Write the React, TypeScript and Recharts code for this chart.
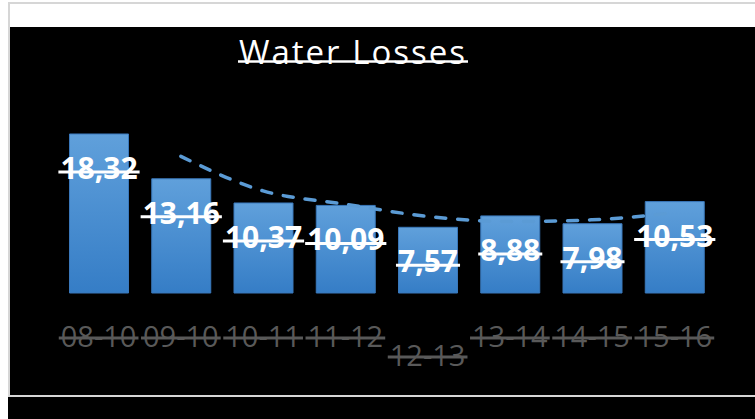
import React from 'react';
import { ComposedChart, Bar, Line, XAxis, YAxis, LabelList } from 'recharts';

const title = 'Water Losses';
const categories = ['08-10', '09-10', '10-11', '11-12', '12-13', '13-14', '14-15', '15-16'];
const losses = [18.32, 13.16, 10.37, 10.09, 7.57, 8.88, 7.98, 10.53];
const movingAverage = [null, 15.74, 11.77, 10.23, 8.83, 8.23, 8.43, 9.26];
const loweredTicks = ['12-13'];

const data = categories.map((c, i) => ({ period: c, loss: losses[i], avg: movingAverage[i] }));

const FONT = '"Open Sans", "Noto Sans", sans-serif';

const textWidth = (s: string, size: number, bold: boolean) => {
  let w = 0;
  for (const ch of s) {
    if (ch >= '0' && ch <= '9') w += 0.572;
    else if (ch === ',') w += bold ? 0.286 : 0.266;
    else if (ch === '-') w += 0.322;
    else w += 0.55;
  }
  return w * size;
};

const fmt = (v: number) => v.toFixed(2).replace('.', ',');

const BarLabel = (props: any) => {
  const { x, y, width, value } = props;
  const cx = Number(x) + Number(width) / 2;
  const base = Number(y) + 45;
  const text = fmt(Number(value));
  const size = 30;
  const w = textWidth(text, size, true);
  return (
    <g>
      <text x={cx} y={base} textAnchor="middle" fill="#ffffff" fontWeight="bold" fontSize={size} fontFamily={FONT}>
        {text}
      </text>
      <line x1={cx - w / 2 - 2} x2={cx + w / 2 + 2} y1={base - 7} y2={base - 7} stroke="#ffffff" strokeWidth={3} />
    </g>
  );
};

const Tick = (props: any) => {
  const { x, y, payload } = props;
  const label = String(payload.value);
  const lowered = loweredTicks.includes(label);
  const base = Number(y) + (lowered ? 65 : 46);
  const size = 29;
  const w = textWidth(label, size, false);
  return (
    <g>
      <text x={x} y={base} textAnchor="middle" fill="#595959" fontSize={size} fontFamily={FONT}>
        {label}
      </text>
      <line x1={x - w / 2 - 2} x2={x + w / 2 + 2} y1={base - 9} y2={base - 9} stroke="#595959" strokeWidth={3} />
    </g>
  );
};

export default function App() {
  return (
    <div style={{ position: 'absolute', left: 0, top: 0, width: 755, height: 419, overflow: 'hidden', background: '#ffffff' }}>
      <div style={{ position: 'absolute', left: 8, top: 2, width: 760, height: 395, boxSizing: 'border-box', border: '2px solid #d6d6d6', background: '#000000' }}>
        <div style={{ position: 'absolute', left: 0, top: 0, right: 0, height: 23, background: '#ffffff' }} />
      </div>
      <div style={{ position: 'absolute', left: 8, top: 397, width: 760, height: 22, background: '#000000' }} />
      <svg width={755} height={419} style={{ position: 'absolute', left: 0, top: 0 }}>
        <text x={353} y={64} textAnchor="middle" fill="#ffffff" fontSize={33} fontFamily={FONT} letterSpacing={2}>
          {title}
        </text>
        <line x1={238} x2={468} y1={61.5} y2={61.5} stroke="#ffffff" strokeWidth={2.5} />
      </svg>
      <div style={{ position: 'absolute', left: 0, top: 0 }}>
        <ComposedChart width={755} height={419} data={data} margin={{ top: 119.4, right: 39.5, bottom: 66, left: 57.5 }}>
          <defs>
            <linearGradient id="barGrad" x1="0" y1="0" x2="0" y2="1">
              <stop offset="0%" stopColor="#60a0db" />
              <stop offset="100%" stopColor="#357dc6" />
            </linearGradient>
          </defs>
          <XAxis dataKey="period" axisLine={false} tickLine={false} interval={0} height={60} tick={<Tick />} />
          <YAxis hide domain={[0, 20]} />
          <Line
            dataKey="avg"
            type="monotone"
            stroke="#5b9bd5"
            strokeWidth={3.5}
            strokeDasharray="10 12"
            strokeLinecap="round"
            dot={false}
            activeDot={false}
            isAnimationActive={false}
          />
          <Bar dataKey="loss" fill="url(#barGrad)" stroke="#3a78bb" strokeWidth={1} barSize={59} isAnimationActive={false}>
            <LabelList dataKey="loss" content={<BarLabel />} />
          </Bar>
        </ComposedChart>
      </div>
    </div>
  );
}
